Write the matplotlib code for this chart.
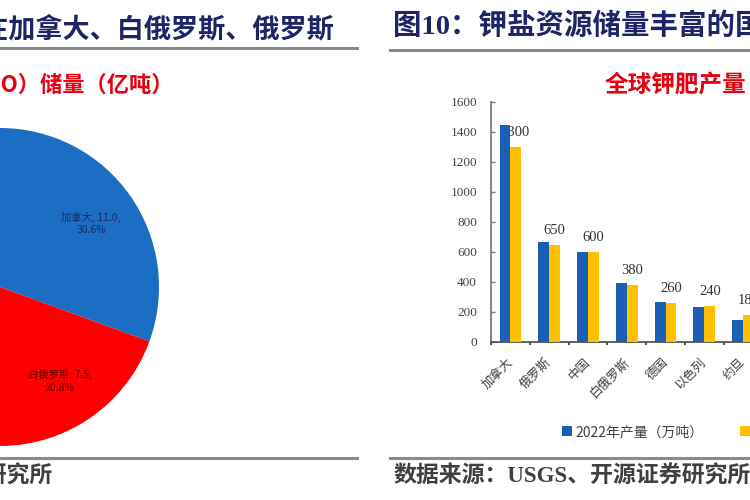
import matplotlib
matplotlib.use('Agg')
import matplotlib.pyplot as plt
import numpy as np
from matplotlib.lines import Line2D

CJK = ['Noto Sans CJK SC', 'DejaVu Sans']
SERIF = ['Liberation Serif', 'DejaVu Serif']
MIX = ['Liberation Serif', 'Noto Sans CJK SC', 'DejaVu Sans']
plt.rcParams['font.family'] = CJK

# ---- left panel: pie of potash reserves (亿吨) ----
pie_labels = ['加拿大', '白俄罗斯', '俄罗斯', '其他']
pie_values = [11.0, 7.5, 4.0, 13.5]
pie_texts = ['加拿大, 11.0,\n30.6%', '白俄罗斯, 7.5,\n20.8%']
pie_colors = ['#1B6EC4', '#FF0000', '#A5A5A5', '#FFC000']

# ---- right panel: potash production (万吨) ----
countries = ['加拿大', '俄罗斯', '中国', '白俄罗斯', '德国', '以色列', '约旦']
prod_blue = [1450, 670, 600, 395, 265, 235, 150]
prod_yellow = [1300, 650, 600, 380, 260, 240, 180]
yellow_labels = ['1300', '650', '600', '380', '260', '240', '180']
series_names = ['2022年产量（万吨）', '2023年产量（万吨）']
yticks = [0, 200, 400, 600, 800, 1000, 1200, 1400, 1600]

W, H = 750, 500
fig = plt.figure(figsize=(W / 100, H / 100), dpi=100)
fig.patch.set_facecolor('white')


def fx(x):
    return x / W


def fy(y):
    return 1 - y / H


def hline(x0, x1, y, color='#8a8a8a', lw=2.2):
    fig.add_artist(Line2D([fx(x0), fx(x1)], [fy(y), fy(y)], color=color, lw=lw,
                          transform=fig.transFigure))


NAVY = '#1F2467'
RED = '#E60012'
GRAY = '#404040'

# titles and rules
fig.text(fx(334), fy(31), '图9：全球钾盐资源主要分布在加拿大、白俄罗斯、俄罗斯',
         ha='right', va='center', fontsize=19.5, fontweight='bold', color=NAVY,
         family=MIX)
fig.text(fx(393), fy(26), '图10：钾盐资源储量丰富的国家',
         ha='left', va='center', fontsize=20.5, fontweight='bold', color=NAVY,
         family=MIX)
hline(0, 357, 48)
hline(390, 750, 50)

fig.text(fx(174), fy(85), '全球钾盐（K2O）储量（亿吨）',
         ha='right', va='center', fontsize=16, fontweight='bold', color=RED)
fig.text(fx(605), fy(85), '全球钾肥产量（万吨）',
         ha='left', va='center', fontsize=17, fontweight='bold', color=RED)

hline(0, 357, 458)
hline(390, 750, 458)
fig.text(fx(53), fy(477), '资料来源：USGS、开源证券研究所',
         ha='right', va='center', fontsize=16.5, fontweight='bold', color=GRAY,
         family=MIX)
fig.text(fx(393), fy(477), '数据来源：USGS、开源证券研究所',
         ha='left', va='center', fontsize=16.5, fontweight='bold', color=GRAY,
         family=MIX)

# ---- pie ----
R = 159
axp = fig.add_axes([fx(-R), fy(287 + R), fx(2 * R), 2 * R / H])
wedges, _ = axp.pie(pie_values, colors=pie_colors, startangle=90,
                    counterclock=False, radius=1)
axp.set_xlim(-1, 1)
axp.set_ylim(-1, 1)
axp.set_aspect('auto')
axp.axis('off')
label_colors = ['#1A2A6C', '#5A0000']
for w, t, c in zip(wedges[:2], pie_texts, label_colors):
    mid = np.deg2rad((w.theta1 + w.theta2) / 2)
    axp.text(0.70 * np.cos(mid), 0.70 * np.sin(mid), t, ha='center', va='center',
             fontsize=7.5, color=c, linespacing=1.3)

# ---- bars ----
px_per_cat = 39
x_lo, x_hi = -0.46, 6.9
axb = fig.add_axes([fx(491), fy(342), fx((x_hi - x_lo) * px_per_cat), 240 / H])
x = np.arange(len(countries))
bw = 0.28
b1 = axb.bar(x - bw / 2, prod_blue, bw, color='#1A5FB4', zorder=3, label=series_names[0])
b2 = axb.bar(x + bw / 2, prod_yellow, bw, color='#FFC000', zorder=3, label=series_names[1])
for xi, v, t in zip(x, prod_yellow, yellow_labels):
    axb.text(xi + bw / 2, v + 95, t, ha='center', va='center', fontsize=10.5,
             family=SERIF, color='#333333', zorder=2)

axb.set_xlim(x_lo, x_hi)
axb.set_ylim(0, 1600)
axb.set_yticks(yticks)
axb.set_yticklabels([str(v) for v in yticks], family=SERIF)
for s in ['top', 'right']:
    axb.spines[s].set_visible(False)
axb.spines['left'].set_color('#7a7a7a')
axb.spines['bottom'].set_color('#555555')
axb.spines['left'].set_linewidth(1.3)
axb.spines['bottom'].set_linewidth(1.3)
axb.tick_params(axis='y', direction='in', length=3, width=1, colors='#7a7a7a',
                labelsize=9.5, labelcolor='#444444', pad=10)
axb.set_xticks(x)
axb.set_xticklabels(countries, rotation=45, ha='right', va='center',
                    rotation_mode='anchor', fontsize=9, color=GRAY)
axb.tick_params(axis='x', which='major', length=0, pad=13)
axb.set_xticks(np.arange(len(countries) + 1) - 0.5, minor=True)
axb.tick_params(axis='x', which='minor', direction='out', length=2.5, width=1.5,
                colors='#555555')

fig.legend(handles=[b1, b2], labels=series_names, loc='center left',
           bbox_to_anchor=(fx(562), fy(432)), ncol=2, frameon=False, fontsize=10,
           handlelength=0.7, handleheight=0.7, handletextpad=0.3, columnspacing=2.6,
           borderaxespad=0, borderpad=0, labelcolor=GRAY)

fig.savefig('out.png', dpi=100, facecolor='white')
